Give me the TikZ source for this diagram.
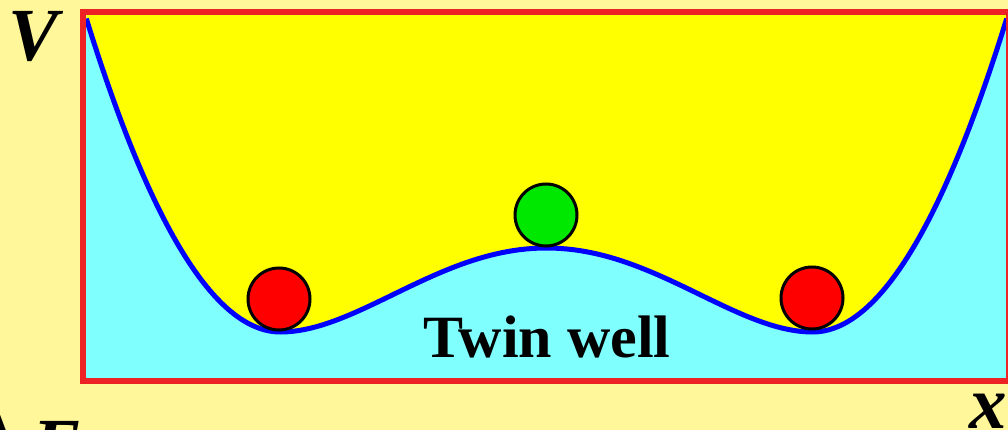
\documentclass[tikz,border=0pt]{standalone}
\usepackage{fontspec}
\setmainfont{Liberation Serif}
\definecolor{bgyel}{RGB}{255,247,153}
\definecolor{wellyel}{RGB}{255,255,0}
\definecolor{wellcyan}{RGB}{128,255,255}
\definecolor{frame}{RGB}{236,34,36}
\definecolor{curveblue}{RGB}{0,0,255}
\definecolor{ballred}{RGB}{255,0,0}
\definecolor{ballgreen}{RGB}{0,232,0}
\tikzset{
  ball/.style={circle, draw=black, line width=3pt, minimum size=62pt, inner sep=0pt},
  label/.style={inner sep=0pt, anchor=base, text=black},
  wellcurve/.style={curveblue, line width=5pt, line join=round},
  declare function={
    wout(\t)=332-588*(\t-1)*(\t-1);
    win(\t)=332-84*(1-\t*\t)*(1-\t*\t);
  }
}
\begin{document}
\begin{tikzpicture}[x=1pt, y=-1pt]
\useasboundingbox (0,0) rectangle (1008,430);
\fill[bgyel] (0,0) rectangle (1008,430);
\fill[wellcyan] (83,12) rectangle (1009,381);
\fill[wellyel] (86.3,12)
  -- plot[domain=86.3:280.5, samples=50] (\x, {wout((546.5-\x)/266)})
  -- plot[domain=280.5:812.5, samples=90] (\x, {win((\x-546.5)/266)})
  -- plot[domain=812.5:1006.7, samples=50] (\x, {wout((\x-546.5)/266)})
  -- (1006.7,12) -- cycle;
\draw[wellcurve] plot[domain=86.3:280.5, samples=50] (\x, {wout((546.5-\x)/266)})
  -- plot[domain=280.5:812.5, samples=90] (\x, {win((\x-546.5)/266)})
  -- plot[domain=812.5:1006.7, samples=50] (\x, {wout((\x-546.5)/266)});
\draw[frame, line width=6pt] (83,12) rectangle (1009,381);
\node[ball, fill=ballred] (leftball) at (279,299) {};
\node[ball, fill=ballgreen] (topball) at (546,215) {};
\node[ball, fill=ballred] (rightball) at (812,298) {};
\node[label, font=\bfseries\fontsize{60}{60}\selectfont] (title) at (547,357) {Twin well};
\node[label, font=\bfseries\itshape\fontsize{75}{75}\selectfont] (vlabel) at (34,61) {V};
\node[label, font=\bfseries\itshape\fontsize{75}{75}\selectfont] (xlabel) at (988,428) {x};
\node[label, anchor=base west, font=\bfseries\fontsize{75}{75}\selectfont] (delabel) at (-42,470) {{\fontsize{100}{100}\selectfont Δ}\kern12pt{\itshape E}};
\end{tikzpicture}
\end{document}
